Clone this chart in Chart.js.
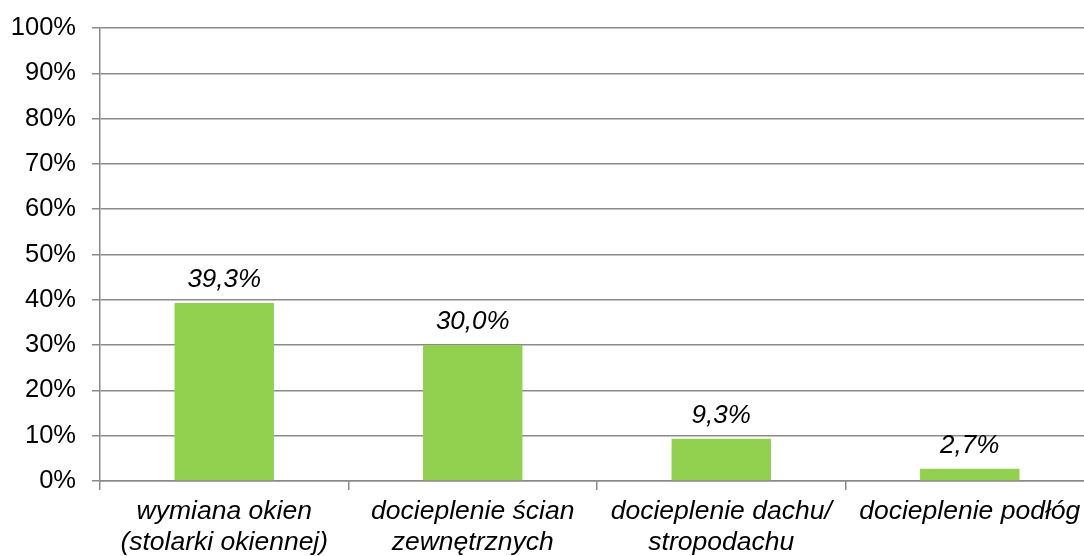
<!DOCTYPE html>
<html>
<head>
<meta charset="utf-8">
<script src="https://cdn.jsdelivr.net/npm/chart.js@4/dist/chart.umd.min.js"></script>
<style>
  html, body { margin: 0; padding: 0; overflow: hidden; background: #fff; }
  #wrap { position: absolute; left: 0; top: 0; width: 1094px; height: 556px; }
</style>
</head>
<body>
<div id="wrap"><canvas id="chart" width="1094" height="556"></canvas></div>
<script>
// Chart data
const categories = [
  ['wymiana okien', '(stolarki okiennej)'],
  ['docieplenie ścian', 'zewnętrznych'],
  ['docieplenie dachu/', 'stropodachu'],
  ['docieplenie podłóg']
];
const values = [39.3, 30.0, 9.3, 2.7];
const yTicks = [0, 10, 20, 30, 40, 50, 60, 70, 80, 90, 100];

const FONT = 'Arial, "Liberation Sans", sans-serif';
const GRID = '#8a8a8a';

// Draw the value labels above each bar
const valueLabels = {
  id: 'valueLabels',
  afterDatasetsDraw(chart) {
    const ctx = chart.ctx;
    const meta = chart.getDatasetMeta(0);
    ctx.save();
    ctx.font = 'italic 26px ' + FONT;
    ctx.fillStyle = '#000';
    ctx.textAlign = 'center';
    ctx.textBaseline = 'alphabetic';
    meta.data.forEach((bar, i) => {
      const txt = values[i].toFixed(1).replace('.', ',') + '%';
      ctx.fillText(txt, bar.x, bar.y - 16);
    });
    ctx.restore();
  }
};

new Chart(document.getElementById('chart'), {
  type: 'bar',
  data: {
    labels: categories,
    datasets: [{
      data: values,
      backgroundColor: '#92D050',
      borderWidth: 0,
      barPercentage: 1,
      categoryPercentage: 0.4
    }]
  },
  plugins: [valueLabels],
  options: {
    responsive: false,
    animation: false,
    layout: { padding: { top: 28, right: 0, bottom: 0, left: 0 } },
    plugins: {
      legend: { display: false },
      tooltip: { enabled: false }
    },
    scales: {
      x: {
        offset: true,
        grid: {
          offset: true,
          drawOnChartArea: false,
          drawTicks: true,
          tickLength: 9,
          color: GRID,
          lineWidth: 1.5
        },
        border: { display: true, color: GRID, width: 1.5 },
        ticks: {
          color: '#000',
          padding: 6,
          maxRotation: 0,
          autoSkip: false,
          font: { family: FONT, size: 26.5, style: 'italic', lineHeight: 1.17 }
        },
        afterFit(scale) { scale.height = 75; }
      },
      y: {
        min: 0,
        max: 100,
        afterBuildTicks(scale) { scale.ticks = yTicks.map(v => ({ value: v })); },
        grid: {
          color: GRID,
          lineWidth: 1.5,
          tickLength: 8
        },
        border: { display: true, color: GRID, width: 1.5 },
        ticks: {
          color: '#000',
          padding: 16,
          font: { family: FONT, size: 25.5 },
          callback: v => v + '%'
        },
        afterFit(scale) {
          scale.width = 100;
          scale.paddingTop = 0;
          scale.paddingBottom = 0;
        }
      }
    }
  }
});
</script>
</body>
</html>
